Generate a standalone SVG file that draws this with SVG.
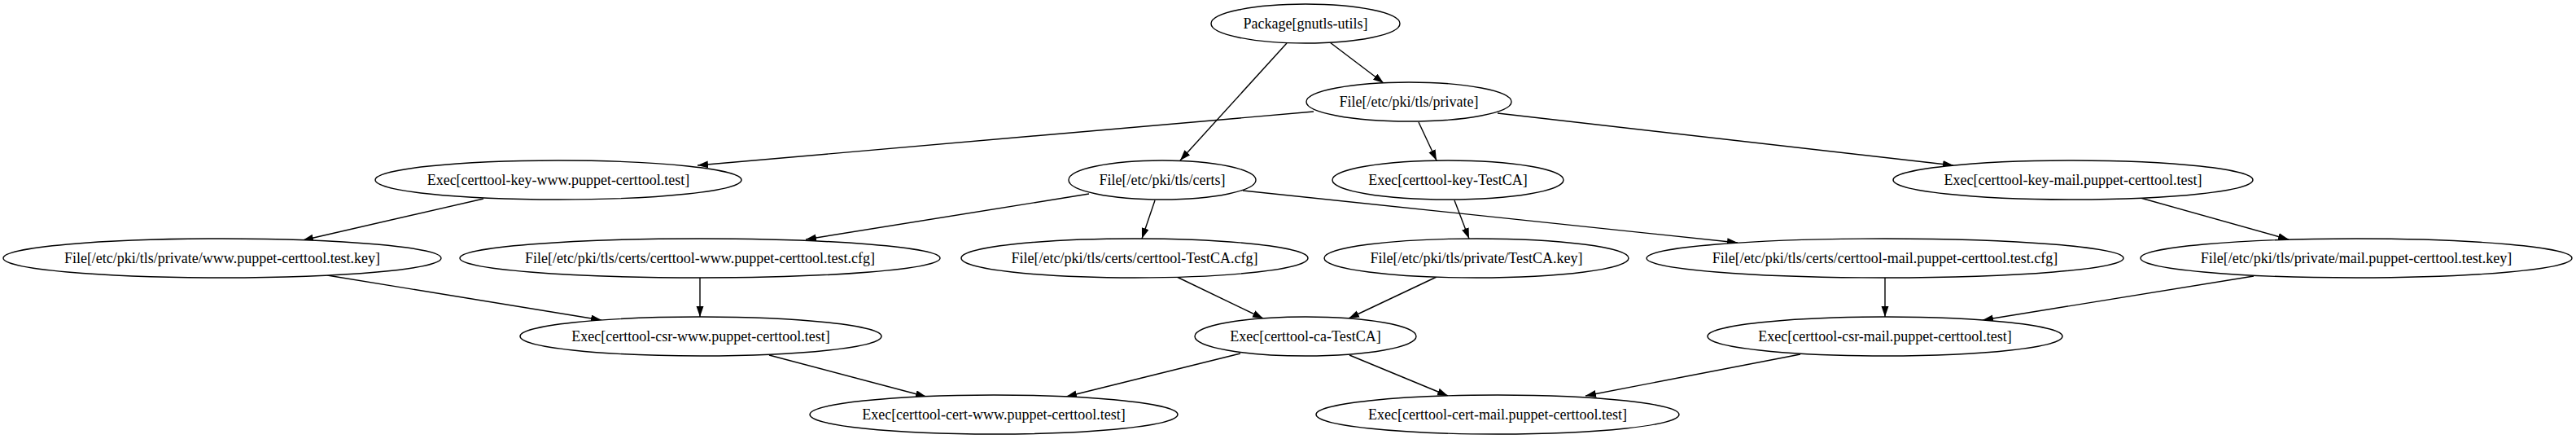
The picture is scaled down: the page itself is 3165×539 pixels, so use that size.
<svg xmlns="http://www.w3.org/2000/svg" width="3165" height="539" viewBox="0 0 3165 539">
<style>
.node ellipse{fill:#fff;stroke:#000;stroke-width:1.4}
.node text{font-family:"Liberation Serif","Times New Roman",serif;font-size:18px;fill:#000;text-anchor:middle}
.edges line{stroke:#000;stroke-width:1.4;marker-end:url(#arr)}
</style>
<defs>
<marker id="arr" markerUnits="userSpaceOnUse" markerWidth="14" markerHeight="10" refX="13" refY="4.5" orient="auto">
<path d="M0,0 L13,4.5 L0,9 z" fill="#000"/>
</marker>
</defs>
<rect width="3165" height="539" fill="#fff"/>
<g id="edges" class="edges">
<line x1="1634" y1="52" x2="1700" y2="102"/>
<line x1="1581" y1="53" x2="1450" y2="197"/>
<line x1="1614" y1="137" x2="857" y2="203"/>
<line x1="1743" y1="150" x2="1765" y2="197"/>
<line x1="1840" y1="139" x2="2400" y2="203"/>
<line x1="594" y1="244" x2="372" y2="295"/>
<line x1="1338" y1="238" x2="990" y2="294"/>
<line x1="1419" y1="246" x2="1403" y2="293"/>
<line x1="1527" y1="234" x2="2135" y2="298"/>
<line x1="1787" y1="246" x2="1805" y2="293"/>
<line x1="2630" y1="243" x2="2812" y2="294"/>
<line x1="402" y1="338" x2="739" y2="393"/>
<line x1="860" y1="341" x2="860" y2="389"/>
<line x1="1446" y1="340" x2="1552" y2="391"/>
<line x1="1765" y1="340" x2="1657" y2="391"/>
<line x1="2316" y1="341" x2="2316" y2="389"/>
<line x1="2769" y1="339" x2="2436" y2="393"/>
<line x1="945" y1="436" x2="1138" y2="487"/>
<line x1="1524" y1="434" x2="1310" y2="487"/>
<line x1="1658" y1="436" x2="1779" y2="486"/>
<line x1="2212" y1="435" x2="1948" y2="486"/>
</g>
<g id="n1" class="node"><ellipse cx="1604" cy="29" rx="116" ry="24"/><text x="1604" y="35">Package[gnutls-utils]</text></g>
<g id="n2" class="node"><ellipse cx="1731" cy="125" rx="126" ry="24"/><text x="1731" y="131">File[/etc/pki/tls/private]</text></g>
<g id="n3" class="node"><ellipse cx="686" cy="221" rx="225" ry="24"/><text x="686" y="227">Exec[certtool-key-www.puppet-certtool.test]</text></g>
<g id="n4" class="node"><ellipse cx="1428" cy="221" rx="115" ry="24"/><text x="1428" y="227">File[/etc/pki/tls/certs]</text></g>
<g id="n5" class="node"><ellipse cx="1779" cy="221" rx="142" ry="24"/><text x="1779" y="227">Exec[certtool-key-TestCA]</text></g>
<g id="n6" class="node"><ellipse cx="2547" cy="221" rx="221" ry="24"/><text x="2547" y="227">Exec[certtool-key-mail.puppet-certtool.test]</text></g>
<g id="n7" class="node"><ellipse cx="273" cy="317" rx="269" ry="24"/><text x="273" y="323">File[/etc/pki/tls/private/www.puppet-certtool.test.key]</text></g>
<g id="n8" class="node"><ellipse cx="860" cy="317" rx="295" ry="24"/><text x="860" y="323">File[/etc/pki/tls/certs/certtool-www.puppet-certtool.test.cfg]</text></g>
<g id="n9" class="node"><ellipse cx="1394" cy="317" rx="213" ry="24"/><text x="1394" y="323">File[/etc/pki/tls/certs/certtool-TestCA.cfg]</text></g>
<g id="n10" class="node"><ellipse cx="1814" cy="317" rx="187" ry="24"/><text x="1814" y="323">File[/etc/pki/tls/private/TestCA.key]</text></g>
<g id="n11" class="node"><ellipse cx="2316" cy="317" rx="293" ry="24"/><text x="2316" y="323">File[/etc/pki/tls/certs/certtool-mail.puppet-certtool.test.cfg]</text></g>
<g id="n12" class="node"><ellipse cx="2895" cy="317" rx="265" ry="24"/><text x="2895" y="323">File[/etc/pki/tls/private/mail.puppet-certtool.test.key]</text></g>
<g id="n13" class="node"><ellipse cx="861" cy="413" rx="222" ry="24"/><text x="861" y="419">Exec[certtool-csr-www.puppet-certtool.test]</text></g>
<g id="n14" class="node"><ellipse cx="1604" cy="413" rx="136" ry="24"/><text x="1604" y="419">Exec[certtool-ca-TestCA]</text></g>
<g id="n15" class="node"><ellipse cx="2316" cy="413" rx="218" ry="24"/><text x="2316" y="419">Exec[certtool-csr-mail.puppet-certtool.test]</text></g>
<g id="n16" class="node"><ellipse cx="1221" cy="509" rx="226" ry="24"/><text x="1221" y="515">Exec[certtool-cert-www.puppet-certtool.test]</text></g>
<g id="n17" class="node"><ellipse cx="1840" cy="509" rx="223" ry="24"/><text x="1840" y="515">Exec[certtool-cert-mail.puppet-certtool.test]</text></g>
</svg>
